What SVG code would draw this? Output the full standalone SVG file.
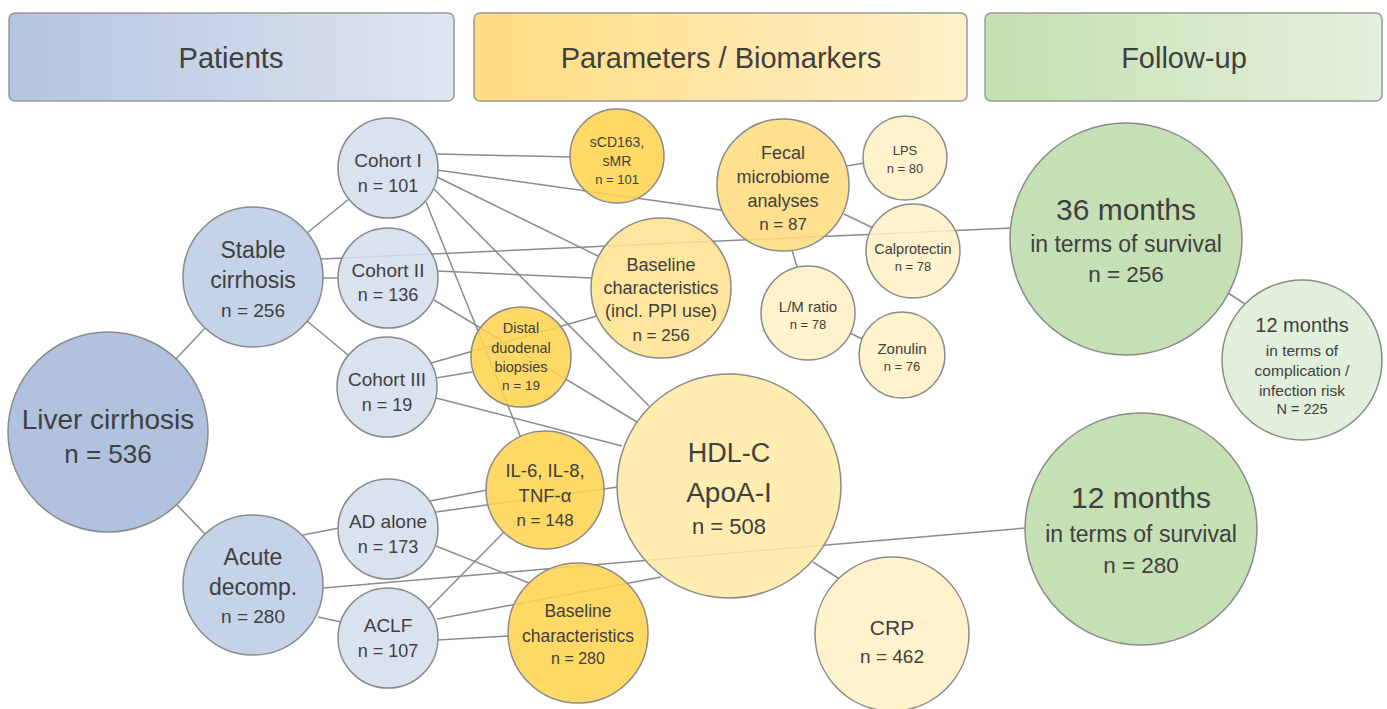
<svg xmlns="http://www.w3.org/2000/svg" width="1387" height="709" viewBox="0 0 1387 709">
<defs>
<linearGradient id="gBlue" x1="0" y1="0" x2="1" y2="0"><stop offset="0" stop-color="#b3c5e0"/><stop offset="1" stop-color="#dfe5f1"/></linearGradient>
<linearGradient id="gGold" x1="0" y1="0" x2="1" y2="0"><stop offset="0" stop-color="#fedc80"/><stop offset="1" stop-color="#fff0c9"/></linearGradient>
<linearGradient id="gGreen" x1="0" y1="0" x2="1" y2="0"><stop offset="0" stop-color="#c4e0b1"/><stop offset="1" stop-color="#e5f0dc"/></linearGradient>
</defs>
<style>
text{font-family:"Liberation Sans",Arial,sans-serif;fill:#404040;text-anchor:middle}
.hdr{stroke:#999;stroke-width:1.5}
.n circle{stroke:#8a8a8a;stroke-width:1.5;fill-opacity:0.88}
#connectors line{stroke:#8c8c8c;stroke-width:1.5}
.b1{fill:#a5bad9}.b2{fill:#bdcde5}.b3{fill:#d5deed}
.y1{fill:#ffd451}.y2{fill:#fedc7f}.y3{fill:#ffe38e}.y4{fill:#ffe9a5}.y5{fill:#fff0c5}
.g1{fill:#bddcaa}.g2{fill:#deedd5}
</style>
<g id="headers">
<g id="hdr-patients"><rect class="hdr" x="9" y="13" width="445" height="88" rx="6" fill="url(#gBlue)"/><text x="231" y="68" font-size="29">Patients</text></g>
<g id="hdr-params"><rect class="hdr" x="474" y="13" width="493" height="88" rx="6" fill="url(#gGold)"/><text x="721" y="68" font-size="29">Parameters / Biomarkers</text></g>
<g id="hdr-followup"><rect class="hdr" x="985" y="13" width="397" height="88" rx="6" fill="url(#gGreen)"/><text x="1184" y="68" font-size="29">Follow-up</text></g>
</g>
<g id="connectors">
<line x1="176" y1="359" x2="205" y2="328"/>
<line x1="177" y1="505" x2="205" y2="534"/>
<line x1="307" y1="233" x2="349" y2="199"/>
<line x1="322" y1="278" x2="339" y2="278"/>
<line x1="307" y1="321" x2="348" y2="355"/>
<line x1="321" y1="259" x2="1011" y2="228"/>
<line x1="303" y1="535" x2="339" y2="528"/>
<line x1="318" y1="617" x2="341" y2="622"/>
<line x1="323" y1="588" x2="1026" y2="528"/>
<line x1="437" y1="154" x2="571" y2="157"/>
<line x1="437" y1="170" x2="721" y2="210"/>
<line x1="437" y1="177" x2="602" y2="258"/>
<line x1="434" y1="189" x2="649" y2="406"/>
<line x1="426" y1="202" x2="521" y2="438"/>
<line x1="437" y1="271" x2="592" y2="278"/>
<line x1="434" y1="300" x2="637" y2="422"/>
<line x1="431" y1="363" x2="597" y2="316"/>
<line x1="436" y1="378" x2="472" y2="372"/>
<line x1="436" y1="398" x2="622" y2="446"/>
<line x1="430" y1="501" x2="487" y2="490"/>
<line x1="436" y1="512" x2="618" y2="487"/>
<line x1="436" y1="546" x2="529" y2="583"/>
<line x1="429" y1="608" x2="504" y2="532"/>
<line x1="437" y1="619" x2="661" y2="577"/>
<line x1="437" y1="640" x2="509" y2="636"/>
<line x1="813" y1="562" x2="838" y2="578"/>
<line x1="847" y1="166" x2="864" y2="163"/>
<line x1="844" y1="214" x2="873" y2="228"/>
<line x1="792" y1="250" x2="797" y2="267"/>
<line x1="850" y1="333" x2="862" y2="339"/>
<line x1="1228" y1="293" x2="1245" y2="304"/>
</g>
<g id="nodes">
<g id="liver" class="n"><circle class="b1" cx="108" cy="432" r="100"/><text x="108" y="429" font-size="28">Liver cirrhosis</text><text x="108" y="463" font-size="26">n = 536</text></g>
<g id="stable" class="n"><circle class="b2" cx="253" cy="277" r="70"/><text x="253" y="258" font-size="23">Stable</text><text x="253" y="288" font-size="23">cirrhosis</text><text x="253" y="317" font-size="19">n = 256</text></g>
<g id="acute" class="n"><circle class="b2" cx="253" cy="585" r="70"/><text x="253" y="565" font-size="23">Acute</text><text x="253" y="595" font-size="23">decomp.</text><text x="253" y="623" font-size="19">n = 280</text></g>
<g id="cohort1" class="n"><circle class="b3" cx="388" cy="168" r="50"/><text x="388" y="167" font-size="19">Cohort I</text><text x="388" y="192" font-size="18">n = 101</text></g>
<g id="cohort2" class="n"><circle class="b3" cx="388" cy="278" r="50"/><text x="388" y="277" font-size="19">Cohort II</text><text x="388" y="301" font-size="18">n = 136</text></g>
<g id="cohort3" class="n"><circle class="b3" cx="387" cy="387" r="50"/><text x="387" y="386" font-size="19">Cohort III</text><text x="387" y="411" font-size="18">n = 19</text></g>
<g id="adalone" class="n"><circle class="b3" cx="388" cy="529" r="50"/><text x="388" y="528" font-size="19">AD alone</text><text x="388" y="553" font-size="18">n = 173</text></g>
<g id="aclf" class="n"><circle class="b3" cx="388" cy="638" r="50"/><text x="388" y="632" font-size="19">ACLF</text><text x="388" y="657" font-size="18">n = 107</text></g>
<g id="scd163" class="n"><circle class="y1" cx="617" cy="156" r="47"/><text x="617" y="147" font-size="14">sCD163,</text><text x="617" y="166" font-size="14">sMR</text><text x="617" y="184" font-size="13">n = 101</text></g>
<g id="fecal" class="n"><circle class="y2" cx="783" cy="185" r="66"/><text x="783" y="159" font-size="18">Fecal</text><text x="783" y="183" font-size="18">microbiome</text><text x="783" y="207" font-size="18">analyses</text><text x="783" y="230" font-size="17">n = 87</text></g>
<g id="lps" class="n"><circle class="y5" cx="905" cy="158" r="42"/><text x="905" y="155" font-size="13">LPS</text><text x="905" y="173" font-size="13">n = 80</text></g>
<g id="calpro" class="n"><circle class="y5" cx="913" cy="251" r="47"/><text x="913" y="254" font-size="14.5">Calprotectin</text><text x="913" y="271" font-size="13">n = 78</text></g>
<g id="lmratio" class="n"><circle class="y5" cx="808" cy="313" r="47"/><text x="808" y="312" font-size="15">L/M ratio</text><text x="808" y="329" font-size="13">n = 78</text></g>
<g id="zonulin" class="n"><circle class="y5" cx="902" cy="355" r="43"/><text x="902" y="354" font-size="15">Zonulin</text><text x="902" y="371" font-size="13">n = 76</text></g>
<g id="baseline256" class="n"><circle class="y3" cx="661" cy="288" r="70"/><text x="661" y="271" font-size="18">Baseline</text><text x="661" y="294" font-size="18">characteristics</text><text x="661" y="317" font-size="18">(incl. PPI use)</text><text x="661" y="341" font-size="17">n = 256</text></g>
<g id="distal" class="n"><circle class="y1" cx="521" cy="357" r="50"/><text x="521" y="333" font-size="14.5">Distal</text><text x="521" y="353" font-size="14.5">duodenal</text><text x="521" y="372" font-size="14.5">biopsies</text><text x="521" y="390" font-size="13.5">n = 19</text></g>
<g id="il6" class="n"><circle class="y1" cx="545" cy="490" r="59"/><text x="545" y="477" font-size="18.5">IL-6, IL-8,</text><text x="545" y="502" font-size="18.5">TNF-α</text><text x="545" y="526" font-size="17">n = 148</text></g>
<g id="hdl" class="n"><circle class="y4" cx="729" cy="486" r="112"/><text x="729" y="462" font-size="27">HDL-C</text><text x="729" y="502" font-size="28">ApoA-I</text><text x="729" y="534" font-size="22">n = 508</text></g>
<g id="baseline280" class="n"><circle class="y1" cx="578" cy="633" r="70"/><text x="578" y="617" font-size="17.5">Baseline</text><text x="578" y="642" font-size="17.5">characteristics</text><text x="578" y="664" font-size="16">n = 280</text></g>
<g id="crp" class="n"><circle class="y5" cx="892" cy="634" r="77"/><text x="892" y="635" font-size="21">CRP</text><text x="892" y="663" font-size="19">n = 462</text></g>
<g id="m36" class="n"><circle class="g1" cx="1126" cy="239" r="116"/><text x="1126" y="220" font-size="30">36 months</text><text x="1126" y="252" font-size="23">in terms of survival</text><text x="1126" y="282" font-size="22.5">n = 256</text></g>
<g id="m12c" class="n"><circle class="g2" cx="1302" cy="360" r="80"/><text x="1302" y="332" font-size="20">12 months</text><text x="1302" y="356" font-size="15.5">in terms of</text><text x="1302" y="376" font-size="15.5">complication /</text><text x="1302" y="396" font-size="15.5">infection risk</text><text x="1302" y="414" font-size="14.5">N = 225</text></g>
<g id="m12s" class="n"><circle class="g1" cx="1141" cy="529" r="116"/><text x="1141" y="508" font-size="30">12 months</text><text x="1141" y="542" font-size="23">in terms of survival</text><text x="1141" y="573" font-size="22.5">n = 280</text></g>
</g>
</svg>
